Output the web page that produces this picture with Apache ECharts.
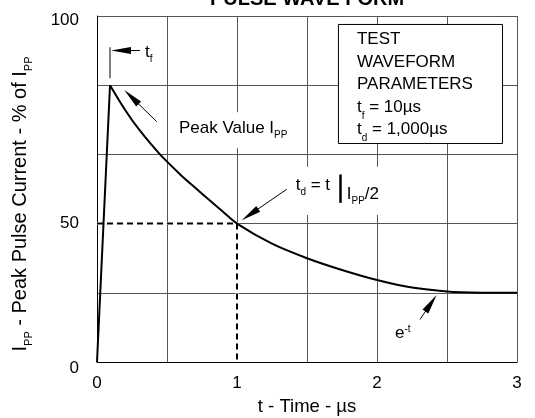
<!DOCTYPE html>
<html><head><meta charset="utf-8">
<script src="https://cdn.jsdelivr.net/npm/echarts@6/dist/echarts.min.js"></script>
<style>html,body{margin:0;padding:0;background:#fff}#c{width:535px;height:418px}</style>
</head><body><div id="c"></div>
<script>
const FONT = '"Liberation Sans", Arial, Helvetica, sans-serif';

// ---- data ----
const xTicks = [0, 1, 2, 3];
const yTickLabels = { 0: '0', 40: '50', 100: '100' };
const riseTime = [0, 0.093];
const riseValue = [0, 80];
const decayTime = [0.093, 0.2, 0.3, 0.45, 0.6, 0.7, 0.8, 0.9, 1.0, 1.25, 1.5, 1.75, 2.0, 2.25, 2.5, 2.75, 3.0];
const decayValue = [80, 72.9, 67.2, 60, 54.0, 50.4, 46.9, 43.4, 40, 34.2, 30.0, 26.6, 23.7, 21.5, 20.4, 20.05, 20];
const halfTime = 1;
const halfValue = 40;

// annotation anchors (data coordinates): [tail, tip]
const tfTick = [[0.093, 82], [0.093, 91]];
const tfArrow = [[0.307, 90], [0.100, 90]];
const peakArrow = [[0.426, 69.5], [0.195, 78.6]];
const tdArrow = [[1.355, 49.9], [1.034, 41.0]];
const etArrow = [[2.307, 12.3], [2.426, 19.4]];
const tdBar = [[1.736, 54.2], [1.736, 46.0]];
const tfLabelAt = [0.343, 89.0];
const peakLabelAt = [0.564, 67.0];
const tdLabelAt = [1.419, 50.5];
const ippLabelAt = [1.784, 48.0];
const etLabelAt = [2.129, 8.0];
const boxCorners = [[1.721, 97.7], [2.893, 63.3]];
const boxTextAt = [1.857, 95.7];
const tdMaskCorners = [[1.38, 56.4], [2.05, 42.5]];
const boxLines = ['TEST', 'WAVEFORM', 'PARAMETERS'];

const ARROW_W = 7, ARROW_L = 20;

const chart = echarts.init(document.getElementById('c'), null, { renderer: 'canvas' });

function seg(a, b) { return [{ coord: a }, { coord: b }]; }
function zip(xs, ys) { return xs.map((x, i) => [x, ys[i]]); }

const yLabelRich = {
  a: { fontSize: 17, fontFamily: FONT, color: '#000', padding: [8, 0, 0, 0] },
  b: { fontSize: 17, fontFamily: FONT, color: '#000', padding: [0, 0, 0, 0] },
  c: { fontSize: 17, fontFamily: FONT, color: '#000', padding: [12, 0, 0, 0] }
};
const yLabelStyleKey = { 100: 'a', 40: 'b', 0: 'c' };

const base = {
  animation: false,
  backgroundColor: '#fff',
  textStyle: { fontFamily: FONT },
  grid: { left: 97, right: 18, top: 16, bottom: 56, containLabel: false, outerBoundsMode: 'none' },
  xAxis: {
    type: 'value', min: 0, max: 3, interval: 0.5,
    axisLine: { show: true, lineStyle: { color: '#000', width: 1 } },
    axisTick: { show: false },
    splitLine: { show: true, lineStyle: { color: '#555', width: 1 } },
    axisLabel: { color: '#000', fontSize: 17, fontFamily: FONT, margin: 12.5,
      formatter: v => xTicks.includes(v) ? String(v) : '' },
    name: 't - Time - \u00b5s', nameLocation: 'middle', nameGap: 35.5,
    nameTextStyle: { color: '#000', fontSize: 18.5, fontFamily: FONT }
  },
  yAxis: {
    type: 'value', min: 0, max: 100, interval: 20,
    axisLine: { show: true, lineStyle: { color: '#000', width: 1 } },
    axisTick: { show: false },
    splitLine: { show: true, lineStyle: { color: '#555', width: 1 } },
    axisLabel: { color: '#000', fontSize: 17, fontFamily: FONT, margin: 18, rich: yLabelRich,
      formatter: v => (yTickLabels[v] !== undefined ? '{' + yLabelStyleKey[v] + '|' + yTickLabels[v] + '}' : '') }
  },
  series: [
    { type: 'line', data: [[0, halfValue], [halfTime, halfValue], [halfTime, 0]], symbol: 'none', silent: true,
      lineStyle: { color: '#fff', width: 3 }, z: 3 },
    { type: 'line', data: [[0, halfValue], [halfTime, halfValue], [halfTime, 0]], symbol: 'none', silent: true,
      lineStyle: { color: '#000', width: 2, type: [6, 4] }, z: 4 },
    { type: 'line', data: zip(riseTime, riseValue), symbol: 'none', silent: true,
      lineStyle: { color: '#000', width: 2 }, z: 5 },
    { type: 'line', data: zip(decayTime, decayValue), symbol: 'none', smooth: 0.3, silent: true,
      lineStyle: { color: '#000', width: 2 }, z: 5 },
    { id: 'arrows', type: 'line', data: [], silent: true, z: 6 },
    { type: 'line', data: [], silent: true, z: 6,
      markLine: {
        silent: true, symbol: ['none', 'none'],
        label: { show: false }, emphasis: { disabled: true },
        lineStyle: { color: '#555', width: 1.5, type: 'solid' },
        data: [seg(tfTick[0], tfTick[1])]
      } },
    { type: 'line', data: [], silent: true, z: 12,
      markLine: {
        silent: true, symbol: ['none', 'none'],
        label: { show: false }, emphasis: { disabled: true },
        lineStyle: { color: '#000', width: 2.5, type: 'solid' },
        data: [seg(tdBar[0], tdBar[1])]
      } }
  ]
};
chart.setOption(base);

const px = c => chart.convertToPixel({ gridIndex: 0 }, c);
const fromPx = p => chart.convertFromPixel({ gridIndex: 0 }, p);

// the end symbol is centred on the segment end: pull the end back by half the head length
function arrowSeg(a) {
  const t = px(a[0]), h = px(a[1]);
  const dx = h[0] - t[0], dy = h[1] - t[1];
  const len = Math.hypot(dx, dy);
  const c = [h[0] - dx / len * ARROW_L / 2, h[1] - dy / len * ARROW_L / 2];
  return seg(a[0], fromPx(c));
}
chart.setOption({ series: [{ id: 'arrows', markLine: {
  silent: true, symbol: ['none', 'triangle'], symbolSize: [ARROW_W, ARROW_L],
  label: { show: false }, emphasis: { disabled: true },
  itemStyle: { color: '#000' },
  lineStyle: { color: '#000', width: 1, type: 'solid' },
  data: [tfArrow, peakArrow, tdArrow, etArrow].map(arrowSeg)
} }] });

function mkRich(size) {
  return {
    n: { fontSize: size, fontFamily: FONT, fill: '#000', color: '#000', lineHeight: 20, verticalAlign: 'top' },
    s: { fontSize: 10, fontFamily: FONT, fill: '#000', color: '#000', lineHeight: 10, padding: [12, 0, 0, 0], verticalAlign: 'bottom' },
    p: { fontSize: 10, fontFamily: FONT, fill: '#000', color: '#000', lineHeight: 10, verticalAlign: 'top' }
  };
}
const rich = mkRich(17);
function label(at, text, extra) {
  const p = px(at);
  return {
    type: 'text', x: p[0], y: p[1], z: 10, silent: true,
    style: Object.assign({ text, rich, fill: '#000', font: '17px ' + FONT,
      align: 'left', textAlign: 'left', verticalAlign: 'middle', textVerticalAlign: 'middle' }, extra || {})
  };
}
const b0 = px(boxCorners[0]), b1 = px(boxCorners[1]);
const m0 = px(tdMaskCorners[0]), m1 = px(tdMaskCorners[1]);
const bt = px(boxTextAt);
const midX = px([1.5, 50])[0];
const axisLeft = px([0, 50])[0];
const boxRich = mkRich(17);
boxRich.n.lineHeight = 22.5;
boxRich.s.padding = [14, 0, 0, 0];
const yNameRich = mkRich(20);
yNameRich.n.lineHeight = 24;
yNameRich.s.fontSize = 11;
yNameRich.s.padding = [15, 0, 0, 0];
const graphic = [
  { type: 'rect', z: 1, silent: true, shape: { x: m0[0], y: m0[1], width: m1[0] - m0[0], height: m1[1] - m0[1] },
    style: { fill: '#fff', stroke: null } },
  { type: 'rect', z: 1, silent: true, shape: { x: b0[0] + 0.5, y: b0[1] + 0.5, width: b1[0] - b0[0], height: b1[1] - b0[1] },
    style: { fill: '#fff', stroke: '#000', lineWidth: 1 } },
  { type: 'text', z: 10, silent: true, x: bt[0], y: bt[1],
    style: { text: boxLines.map(s => '{n|' + s + '}').join('\n') + '\n{n|t}{s|f}{n| = 10\u00b5s}\n{n|t}{s|d}{n| = 1,000\u00b5s}',
      rich: boxRich, align: 'left', textAlign: 'left', verticalAlign: 'top', textVerticalAlign: 'top' } },
  label(tfLabelAt, '{n|t}{s|f}'),
  label(peakLabelAt, '{n|Peak Value I}{s|PP}', { backgroundColor: '#fff', padding: [8, 3, 8, 3] }),
  label(tdLabelAt, '{n|t}{s|d}{n| = t}'),
  label(ippLabelAt, '{n|I}{s|PP}{n|/2}'),
  label(etLabelAt, '{n|e}{p|-t}'),
  { type: 'text', z: 10, silent: true, x: midX, y: -1,
    style: { text: 'PULSE WAVE FORM', fill: '#000', font: 'bold 20px ' + FONT,
      align: 'center', textAlign: 'center', verticalAlign: 'middle', textVerticalAlign: 'middle' } },
  { type: 'text', z: 10, silent: true, x: axisLeft - 75, y: 204, rotation: Math.PI / 2,
    style: { text: '{n|I}{s|PP}{n| - Peak Pulse Current - % of I}{s|PP}', rich: yNameRich, fill: '#000', font: '20px ' + FONT,
      align: 'center', textAlign: 'center', verticalAlign: 'middle', textVerticalAlign: 'middle' } }
];
chart.setOption({ graphic });
</script>
</body></html>
